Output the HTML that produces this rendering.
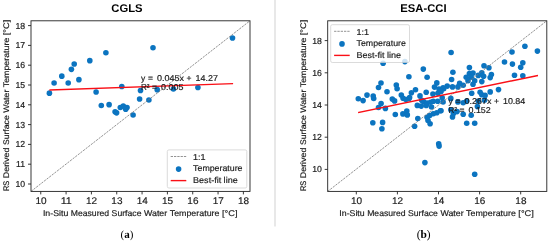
<!DOCTYPE html>
<html><head><meta charset="utf-8"><title>CGLS vs ESA-CCI</title>
<style>
html,body{margin:0;padding:0;background:#fff;}
body{width:550px;height:242px;overflow:hidden;font-family:"Liberation Sans",sans-serif;}
svg{display:block;will-change:transform;opacity:0.999;}
svg text{font-family:"Liberation Sans",sans-serif;fill:#1c1c1c;stroke:#1c1c1c;stroke-width:0.18px;text-rendering:geometricPrecision;}
</style></head>
<body>
<svg width="550" height="242" viewBox="0 0 550 242">
<rect width="550" height="242" fill="#fff"/>
<line x1="275" y1="0" x2="275" y2="226.5" stroke="#e3e3e3" stroke-width="1.6"/>
<g id="left">
<g fill="#0b74c0">
<circle cx="89.80" cy="60.65" r="2.8"/>
<circle cx="74.20" cy="63.95" r="2.8"/>
<circle cx="71.40" cy="69.35" r="2.8"/>
<circle cx="61.80" cy="76.15" r="2.8"/>
<circle cx="78.90" cy="79.65" r="2.8"/>
<circle cx="54.10" cy="82.95" r="2.8"/>
<circle cx="68.20" cy="82.95" r="2.8"/>
<circle cx="49.40" cy="93.15" r="2.8"/>
<circle cx="96.10" cy="92.05" r="2.8"/>
<circle cx="101.30" cy="105.45" r="2.8"/>
<circle cx="105.90" cy="52.75" r="2.8"/>
<circle cx="153.00" cy="47.75" r="2.8"/>
<circle cx="121.80" cy="86.55" r="2.8"/>
<circle cx="140.50" cy="90.55" r="2.8"/>
<circle cx="157.20" cy="89.65" r="2.8"/>
<circle cx="139.60" cy="99.05" r="2.8"/>
<circle cx="148.90" cy="99.95" r="2.8"/>
<circle cx="109.10" cy="104.65" r="2.8"/>
<circle cx="120.30" cy="107.45" r="2.8"/>
<circle cx="123.30" cy="105.95" r="2.8"/>
<circle cx="127.00" cy="107.45" r="2.8"/>
<circle cx="125.70" cy="109.15" r="2.8"/>
<circle cx="115.10" cy="111.85" r="2.8"/>
<circle cx="116.60" cy="112.85" r="2.8"/>
<circle cx="133.10" cy="114.95" r="2.8"/>
<circle cx="173.40" cy="88.95" r="2.8"/>
<circle cx="197.90" cy="87.55" r="2.8"/>
<circle cx="232.50" cy="38.05" r="2.8"/>
</g>
<line x1="31.0" y1="191.4" x2="250.0" y2="20.8" stroke="#777" stroke-width="0.8" stroke-dasharray="2.3,1"/>
<line x1="50.0" y1="90.05" x2="232.4" y2="83.6" stroke="#fa0f16" stroke-width="1.4" stroke-linecap="square"/>
<text y="81.3" font-size="8.5"><tspan x="141.00">y</tspan> <tspan x="148.10">=</tspan> <tspan x="157.11" textLength="26.95" lengthAdjust="spacingAndGlyphs">0.045x</tspan> <tspan x="186.54">+</tspan> <tspan x="195.55" textLength="22.33" lengthAdjust="spacingAndGlyphs">14.27</tspan></text>
<text y="90.2" font-size="8.5"><tspan x="141.00" textLength="8.55" lengthAdjust="spacingAndGlyphs">R²</tspan> <tspan x="152.03">=</tspan> <tspan x="161.04" textLength="22.33" lengthAdjust="spacingAndGlyphs">0.005</tspan></text>
<rect x="167.3" y="149.9" width="79.5" height="38.1" rx="1.6" fill="#fff" fill-opacity="0.8" stroke="#ccc" stroke-width="0.7"/>
<line x1="170.70000000000002" y1="156.5" x2="186.3" y2="156.5" stroke="#777" stroke-width="0.8" stroke-dasharray="2.3,1"/>
<circle cx="178.60000000000002" cy="169.1" r="2.8" fill="#0b74c0"/>
<line x1="170.70000000000002" y1="180.6" x2="186.3" y2="180.6" stroke="#fa0f16" stroke-width="1.4"/>
<text y="159.70000000000002" font-size="8.5"><tspan x="193.10" textLength="12.55" lengthAdjust="spacingAndGlyphs">1:1</tspan></text>
<text y="171.3" font-size="8.5"><tspan x="193.10" textLength="49.41" lengthAdjust="spacingAndGlyphs">Temperature</tspan></text>
<text y="183.0" font-size="8.5"><tspan x="193.10" textLength="28.06" lengthAdjust="spacingAndGlyphs">Best-fit</tspan> <tspan x="223.64" textLength="14.08" lengthAdjust="spacingAndGlyphs">line</tspan></text>
<rect x="31.0" y="20.8" width="219.0" height="170.6" fill="none" stroke="#222" stroke-width="0.9"/>
<line x1="40.75" y1="191.4" x2="40.75" y2="194.4" stroke="#222" stroke-width="0.9"/>
<text x="40.95" y="204.4" font-size="9.7" text-anchor="middle" textLength="11.1" lengthAdjust="spacingAndGlyphs">10</text>
<line x1="66.08" y1="191.4" x2="66.08" y2="194.4" stroke="#222" stroke-width="0.9"/>
<text x="66.28" y="204.4" font-size="9.7" text-anchor="middle" textLength="11.1" lengthAdjust="spacingAndGlyphs">11</text>
<line x1="91.41" y1="191.4" x2="91.41" y2="194.4" stroke="#222" stroke-width="0.9"/>
<text x="91.61" y="204.4" font-size="9.7" text-anchor="middle" textLength="11.1" lengthAdjust="spacingAndGlyphs">12</text>
<line x1="116.74" y1="191.4" x2="116.74" y2="194.4" stroke="#222" stroke-width="0.9"/>
<text x="116.94" y="204.4" font-size="9.7" text-anchor="middle" textLength="11.1" lengthAdjust="spacingAndGlyphs">13</text>
<line x1="142.07" y1="191.4" x2="142.07" y2="194.4" stroke="#222" stroke-width="0.9"/>
<text x="142.27" y="204.4" font-size="9.7" text-anchor="middle" textLength="11.1" lengthAdjust="spacingAndGlyphs">14</text>
<line x1="167.40" y1="191.4" x2="167.40" y2="194.4" stroke="#222" stroke-width="0.9"/>
<text x="167.60" y="204.4" font-size="9.7" text-anchor="middle" textLength="11.1" lengthAdjust="spacingAndGlyphs">15</text>
<line x1="192.73" y1="191.4" x2="192.73" y2="194.4" stroke="#222" stroke-width="0.9"/>
<text x="192.93" y="204.4" font-size="9.7" text-anchor="middle" textLength="11.1" lengthAdjust="spacingAndGlyphs">16</text>
<line x1="218.06" y1="191.4" x2="218.06" y2="194.4" stroke="#222" stroke-width="0.9"/>
<text x="218.26" y="204.4" font-size="9.7" text-anchor="middle" textLength="11.1" lengthAdjust="spacingAndGlyphs">17</text>
<line x1="243.39" y1="191.4" x2="243.39" y2="194.4" stroke="#222" stroke-width="0.9"/>
<text x="243.59" y="204.4" font-size="9.7" text-anchor="middle" textLength="11.1" lengthAdjust="spacingAndGlyphs">18</text>
<line x1="28.0" y1="184.00" x2="31.0" y2="184.00" stroke="#222" stroke-width="0.9"/>
<text x="25.10" y="187.00" font-size="8.7" text-anchor="end">10</text>
<line x1="28.0" y1="164.20" x2="31.0" y2="164.20" stroke="#222" stroke-width="0.9"/>
<text x="25.10" y="167.20" font-size="8.7" text-anchor="end">11</text>
<line x1="28.0" y1="144.40" x2="31.0" y2="144.40" stroke="#222" stroke-width="0.9"/>
<text x="25.10" y="147.40" font-size="8.7" text-anchor="end">12</text>
<line x1="28.0" y1="124.60" x2="31.0" y2="124.60" stroke="#222" stroke-width="0.9"/>
<text x="25.10" y="127.60" font-size="8.7" text-anchor="end">13</text>
<line x1="28.0" y1="104.80" x2="31.0" y2="104.80" stroke="#222" stroke-width="0.9"/>
<text x="25.10" y="107.80" font-size="8.7" text-anchor="end">14</text>
<line x1="28.0" y1="85.00" x2="31.0" y2="85.00" stroke="#222" stroke-width="0.9"/>
<text x="25.10" y="88.00" font-size="8.7" text-anchor="end">15</text>
<line x1="28.0" y1="65.20" x2="31.0" y2="65.20" stroke="#222" stroke-width="0.9"/>
<text x="25.10" y="68.20" font-size="8.7" text-anchor="end">16</text>
<line x1="28.0" y1="45.40" x2="31.0" y2="45.40" stroke="#222" stroke-width="0.9"/>
<text x="25.10" y="48.40" font-size="8.7" text-anchor="end">17</text>
<line x1="28.0" y1="25.60" x2="31.0" y2="25.60" stroke="#222" stroke-width="0.9"/>
<text x="25.10" y="28.60" font-size="8.7" text-anchor="end">18</text>
<text y="216.1" font-size="8.3"><tspan x="42.93" textLength="25.34" lengthAdjust="spacingAndGlyphs">In-Situ</tspan> <tspan x="70.77" textLength="38.35" lengthAdjust="spacingAndGlyphs">Measured</tspan> <tspan x="111.61" textLength="29.91" lengthAdjust="spacingAndGlyphs">Surface</tspan> <tspan x="144.01" textLength="23.21" lengthAdjust="spacingAndGlyphs">Water</tspan> <tspan x="169.71" textLength="49.73" lengthAdjust="spacingAndGlyphs">Temperature</tspan> <tspan x="221.94" textLength="15.53" lengthAdjust="spacingAndGlyphs">[°C]</tspan></text>
<text y="0" font-size="8.1" transform="translate(9.299999999999999,105.4) rotate(-90)"><tspan x="-85.68" textLength="10.40" lengthAdjust="spacingAndGlyphs">RS</tspan> <tspan x="-72.80" textLength="30.62" lengthAdjust="spacingAndGlyphs">Derived</tspan> <tspan x="-39.69" textLength="29.79" lengthAdjust="spacingAndGlyphs">Surface</tspan> <tspan x="-7.41" textLength="23.12" lengthAdjust="spacingAndGlyphs">Water</tspan> <tspan x="18.19" textLength="49.54" lengthAdjust="spacingAndGlyphs">Temperature</tspan> <tspan x="70.21" textLength="15.47" lengthAdjust="spacingAndGlyphs">[°C]</tspan></text>
<text x="127" y="11.8" font-size="11.25" font-weight="bold" text-anchor="middle" style="fill:#000;stroke:none">CGLS</text>
<text x="127" y="238" font-size="11" text-anchor="middle" style="font-family:'Liberation Serif',serif;fill:#000;stroke:none">(<tspan font-weight="bold">a</tspan>)</text>
</g>
<g id="right">
<g fill="#0b74c0">
<circle cx="383.10" cy="63.30" r="2.8"/>
<circle cx="404.90" cy="61.60" r="2.8"/>
<circle cx="408.90" cy="76.70" r="2.8"/>
<circle cx="381.00" cy="83.00" r="2.8"/>
<circle cx="378.50" cy="87.50" r="2.8"/>
<circle cx="396.30" cy="85.10" r="2.8"/>
<circle cx="397.10" cy="88.70" r="2.8"/>
<circle cx="387.00" cy="91.70" r="2.8"/>
<circle cx="367.00" cy="95.10" r="2.8"/>
<circle cx="373.20" cy="96.00" r="2.8"/>
<circle cx="373.70" cy="98.50" r="2.8"/>
<circle cx="358.30" cy="98.70" r="2.8"/>
<circle cx="363.10" cy="100.60" r="2.8"/>
<circle cx="401.30" cy="95.10" r="2.8"/>
<circle cx="403.10" cy="98.30" r="2.8"/>
<circle cx="392.30" cy="99.10" r="2.8"/>
<circle cx="394.60" cy="100.90" r="2.8"/>
<circle cx="405.90" cy="99.50" r="2.8"/>
<circle cx="409.60" cy="97.50" r="2.8"/>
<circle cx="381.10" cy="103.60" r="2.8"/>
<circle cx="378.50" cy="107.50" r="2.8"/>
<circle cx="385.40" cy="108.40" r="2.8"/>
<circle cx="395.30" cy="114.50" r="2.8"/>
<circle cx="402.90" cy="113.90" r="2.8"/>
<circle cx="406.80" cy="111.00" r="2.8"/>
<circle cx="407.30" cy="114.90" r="2.8"/>
<circle cx="372.80" cy="122.80" r="2.8"/>
<circle cx="382.60" cy="122.40" r="2.8"/>
<circle cx="381.90" cy="128.80" r="2.8"/>
<circle cx="423.30" cy="69.10" r="2.8"/>
<circle cx="427.10" cy="77.20" r="2.8"/>
<circle cx="436.80" cy="82.90" r="2.8"/>
<circle cx="434.50" cy="87.10" r="2.8"/>
<circle cx="439.00" cy="89.00" r="2.8"/>
<circle cx="443.10" cy="87.80" r="2.8"/>
<circle cx="415.50" cy="89.70" r="2.8"/>
<circle cx="411.40" cy="92.80" r="2.8"/>
<circle cx="426.20" cy="92.30" r="2.8"/>
<circle cx="432.90" cy="94.10" r="2.8"/>
<circle cx="437.90" cy="93.20" r="2.8"/>
<circle cx="420.00" cy="95.90" r="2.8"/>
<circle cx="409.00" cy="98.60" r="2.8"/>
<circle cx="421.70" cy="100.30" r="2.8"/>
<circle cx="442.20" cy="97.70" r="2.8"/>
<circle cx="437.70" cy="101.30" r="2.8"/>
<circle cx="443.10" cy="102.00" r="2.8"/>
<circle cx="423.50" cy="101.60" r="2.8"/>
<circle cx="427.10" cy="103.10" r="2.8"/>
<circle cx="430.60" cy="102.20" r="2.8"/>
<circle cx="433.30" cy="101.30" r="2.8"/>
<circle cx="417.30" cy="105.40" r="2.8"/>
<circle cx="421.20" cy="106.10" r="2.8"/>
<circle cx="426.20" cy="105.40" r="2.8"/>
<circle cx="431.50" cy="107.00" r="2.8"/>
<circle cx="440.40" cy="110.70" r="2.8"/>
<circle cx="436.80" cy="112.80" r="2.8"/>
<circle cx="433.30" cy="113.70" r="2.8"/>
<circle cx="429.70" cy="115.50" r="2.8"/>
<circle cx="427.10" cy="117.30" r="2.8"/>
<circle cx="417.80" cy="118.50" r="2.8"/>
<circle cx="428.00" cy="120.50" r="2.8"/>
<circle cx="430.10" cy="123.80" r="2.8"/>
<circle cx="414.60" cy="126.30" r="2.8"/>
<circle cx="438.70" cy="143.70" r="2.8"/>
<circle cx="439.10" cy="146.10" r="2.8"/>
<circle cx="424.90" cy="162.60" r="2.8"/>
<circle cx="451.10" cy="52.50" r="2.8"/>
<circle cx="469.40" cy="67.60" r="2.8"/>
<circle cx="484.00" cy="65.70" r="2.8"/>
<circle cx="488.90" cy="67.80" r="2.8"/>
<circle cx="452.90" cy="72.20" r="2.8"/>
<circle cx="469.40" cy="73.60" r="2.8"/>
<circle cx="473.00" cy="73.10" r="2.8"/>
<circle cx="481.80" cy="72.70" r="2.8"/>
<circle cx="466.20" cy="77.20" r="2.8"/>
<circle cx="471.20" cy="77.20" r="2.8"/>
<circle cx="478.30" cy="75.40" r="2.8"/>
<circle cx="483.60" cy="76.30" r="2.8"/>
<circle cx="451.60" cy="79.50" r="2.8"/>
<circle cx="468.00" cy="80.70" r="2.8"/>
<circle cx="474.70" cy="80.70" r="2.8"/>
<circle cx="481.80" cy="81.60" r="2.8"/>
<circle cx="459.60" cy="83.40" r="2.8"/>
<circle cx="463.20" cy="85.20" r="2.8"/>
<circle cx="473.00" cy="84.30" r="2.8"/>
<circle cx="447.20" cy="86.10" r="2.8"/>
<circle cx="452.50" cy="86.90" r="2.8"/>
<circle cx="443.70" cy="88.70" r="2.8"/>
<circle cx="441.00" cy="91.40" r="2.8"/>
<circle cx="457.90" cy="86.90" r="2.8"/>
<circle cx="471.70" cy="93.30" r="2.8"/>
<circle cx="480.10" cy="92.20" r="2.8"/>
<circle cx="481.80" cy="94.80" r="2.8"/>
<circle cx="450.80" cy="98.40" r="2.8"/>
<circle cx="457.90" cy="101.90" r="2.8"/>
<circle cx="466.70" cy="101.10" r="2.8"/>
<circle cx="478.30" cy="101.10" r="2.8"/>
<circle cx="484.50" cy="100.20" r="2.8"/>
<circle cx="463.20" cy="102.70" r="2.8"/>
<circle cx="477.40" cy="106.60" r="2.8"/>
<circle cx="441.00" cy="110.70" r="2.8"/>
<circle cx="450.80" cy="109.80" r="2.8"/>
<circle cx="453.40" cy="113.40" r="2.8"/>
<circle cx="457.00" cy="111.60" r="2.8"/>
<circle cx="452.50" cy="116.90" r="2.8"/>
<circle cx="463.20" cy="114.30" r="2.8"/>
<circle cx="471.20" cy="115.20" r="2.8"/>
<circle cx="466.70" cy="123.20" r="2.8"/>
<circle cx="474.70" cy="123.20" r="2.8"/>
<circle cx="474.70" cy="174.30" r="2.8"/>
<circle cx="524.90" cy="46.20" r="2.8"/>
<circle cx="537.40" cy="51.10" r="2.8"/>
<circle cx="512.00" cy="52.00" r="2.8"/>
<circle cx="504.50" cy="62.00" r="2.8"/>
<circle cx="512.40" cy="64.10" r="2.8"/>
<circle cx="522.80" cy="62.70" r="2.8"/>
<circle cx="520.70" cy="67.30" r="2.8"/>
<circle cx="514.50" cy="75.30" r="2.8"/>
<circle cx="522.80" cy="75.80" r="2.8"/>
<circle cx="491.40" cy="74.50" r="2.8"/>
<circle cx="490.20" cy="77.60" r="2.8"/>
<circle cx="498.50" cy="89.60" r="2.8"/>
<circle cx="490.20" cy="91.90" r="2.8"/>
<circle cx="485.10" cy="95.40" r="2.8"/>
</g>
<line x1="327.7" y1="191.4" x2="546.8" y2="20.8" stroke="#777" stroke-width="0.8" stroke-dasharray="2.3,1"/>
<line x1="358.8" y1="112.5" x2="537.3" y2="75.6" stroke="#fa0f16" stroke-width="1.4" stroke-linecap="square"/>
<text y="103.7" font-size="8.5"><tspan x="448.40">y</tspan> <tspan x="455.50">=</tspan> <tspan x="464.51" textLength="26.95" lengthAdjust="spacingAndGlyphs">0.267x</tspan> <tspan x="493.94">+</tspan> <tspan x="502.95" textLength="22.33" lengthAdjust="spacingAndGlyphs">10.84</tspan></text>
<text y="112.60000000000001" font-size="8.5"><tspan x="448.40" textLength="8.55" lengthAdjust="spacingAndGlyphs">R²</tspan> <tspan x="459.43">=</tspan> <tspan x="468.44" textLength="22.33" lengthAdjust="spacingAndGlyphs">0.152</tspan></text>
<rect x="330.7" y="24.7" width="78.8" height="37.8" rx="1.6" fill="#fff" fill-opacity="0.8" stroke="#ccc" stroke-width="0.7"/>
<line x1="334.09999999999997" y1="31.299999999999997" x2="349.7" y2="31.299999999999997" stroke="#777" stroke-width="0.8" stroke-dasharray="2.3,1"/>
<circle cx="342.0" cy="43.9" r="2.8" fill="#0b74c0"/>
<line x1="334.09999999999997" y1="55.4" x2="349.7" y2="55.4" stroke="#fa0f16" stroke-width="1.4"/>
<text y="34.5" font-size="8.5"><tspan x="356.50" textLength="12.55" lengthAdjust="spacingAndGlyphs">1:1</tspan></text>
<text y="46.099999999999994" font-size="8.5"><tspan x="356.50" textLength="49.41" lengthAdjust="spacingAndGlyphs">Temperature</tspan></text>
<text y="57.8" font-size="8.5"><tspan x="356.50" textLength="28.06" lengthAdjust="spacingAndGlyphs">Best-fit</tspan> <tspan x="387.04" textLength="14.08" lengthAdjust="spacingAndGlyphs">line</tspan></text>
<rect x="327.7" y="20.8" width="219.09999999999997" height="170.6" fill="none" stroke="#222" stroke-width="0.9"/>
<line x1="356.30" y1="191.4" x2="356.30" y2="194.4" stroke="#222" stroke-width="0.9"/>
<text x="356.50" y="204.4" font-size="9.7" text-anchor="middle" textLength="11.1" lengthAdjust="spacingAndGlyphs">10</text>
<line x1="397.40" y1="191.4" x2="397.40" y2="194.4" stroke="#222" stroke-width="0.9"/>
<text x="397.60" y="204.4" font-size="9.7" text-anchor="middle" textLength="11.1" lengthAdjust="spacingAndGlyphs">12</text>
<line x1="438.50" y1="191.4" x2="438.50" y2="194.4" stroke="#222" stroke-width="0.9"/>
<text x="438.70" y="204.4" font-size="9.7" text-anchor="middle" textLength="11.1" lengthAdjust="spacingAndGlyphs">14</text>
<line x1="479.60" y1="191.4" x2="479.60" y2="194.4" stroke="#222" stroke-width="0.9"/>
<text x="479.80" y="204.4" font-size="9.7" text-anchor="middle" textLength="11.1" lengthAdjust="spacingAndGlyphs">16</text>
<line x1="520.70" y1="191.4" x2="520.70" y2="194.4" stroke="#222" stroke-width="0.9"/>
<text x="520.90" y="204.4" font-size="9.7" text-anchor="middle" textLength="11.1" lengthAdjust="spacingAndGlyphs">18</text>
<line x1="324.7" y1="169.40" x2="327.7" y2="169.40" stroke="#222" stroke-width="0.9"/>
<text x="321.80" y="172.40" font-size="8.7" text-anchor="end">10</text>
<line x1="324.7" y1="137.20" x2="327.7" y2="137.20" stroke="#222" stroke-width="0.9"/>
<text x="321.80" y="140.20" font-size="8.7" text-anchor="end">12</text>
<line x1="324.7" y1="105.00" x2="327.7" y2="105.00" stroke="#222" stroke-width="0.9"/>
<text x="321.80" y="108.00" font-size="8.7" text-anchor="end">14</text>
<line x1="324.7" y1="72.80" x2="327.7" y2="72.80" stroke="#222" stroke-width="0.9"/>
<text x="321.80" y="75.80" font-size="8.7" text-anchor="end">16</text>
<line x1="324.7" y1="40.60" x2="327.7" y2="40.60" stroke="#222" stroke-width="0.9"/>
<text x="321.80" y="43.60" font-size="8.7" text-anchor="end">18</text>
<text y="216.1" font-size="8.3"><tspan x="339.33" textLength="25.34" lengthAdjust="spacingAndGlyphs">In-Situ</tspan> <tspan x="367.17" textLength="38.35" lengthAdjust="spacingAndGlyphs">Measured</tspan> <tspan x="408.01" textLength="29.91" lengthAdjust="spacingAndGlyphs">Surface</tspan> <tspan x="440.41" textLength="23.21" lengthAdjust="spacingAndGlyphs">Water</tspan> <tspan x="466.11" textLength="49.73" lengthAdjust="spacingAndGlyphs">Temperature</tspan> <tspan x="518.34" textLength="15.53" lengthAdjust="spacingAndGlyphs">[°C]</tspan></text>
<text y="0" font-size="8.1" transform="translate(306.3,105.4) rotate(-90)"><tspan x="-85.68" textLength="10.40" lengthAdjust="spacingAndGlyphs">RS</tspan> <tspan x="-72.80" textLength="30.62" lengthAdjust="spacingAndGlyphs">Derived</tspan> <tspan x="-39.69" textLength="29.79" lengthAdjust="spacingAndGlyphs">Surface</tspan> <tspan x="-7.41" textLength="23.12" lengthAdjust="spacingAndGlyphs">Water</tspan> <tspan x="18.19" textLength="49.54" lengthAdjust="spacingAndGlyphs">Temperature</tspan> <tspan x="70.21" textLength="15.47" lengthAdjust="spacingAndGlyphs">[°C]</tspan></text>
<text x="423.5" y="11.8" font-size="11.25" font-weight="bold" text-anchor="middle" style="fill:#000;stroke:none">ESA-CCI</text>
<text x="423.6" y="238.3" font-size="11.4" text-anchor="middle" style="font-family:'Liberation Serif',serif;fill:#000;stroke:none">(<tspan font-weight="bold">b</tspan>)</text>
</g>
</svg>
</body></html>
